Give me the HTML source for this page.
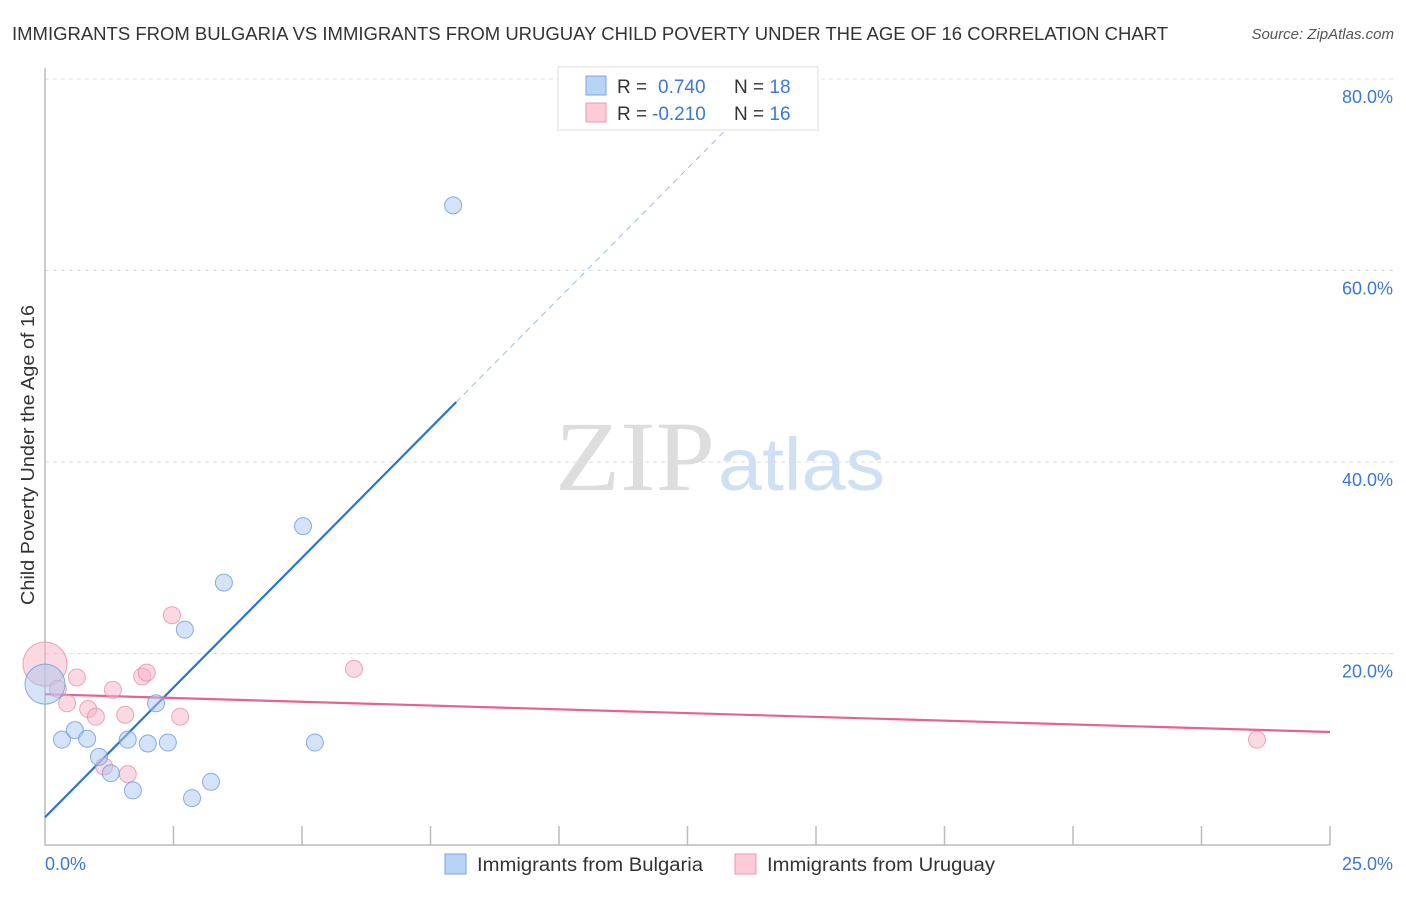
<!DOCTYPE html>
<html><head><meta charset="utf-8"><style>
body{margin:0;background:#fff;font-family:"Liberation Sans",sans-serif;}
</style></head><body>
<svg id="c" width="1406" height="892" xmlns="http://www.w3.org/2000/svg">
<text x="12" y="40" font-size="18" fill="#333" textLength="1156" lengthAdjust="spacingAndGlyphs">IMMIGRANTS FROM BULGARIA VS IMMIGRANTS FROM URUGUAY CHILD POVERTY UNDER THE AGE OF 16 CORRELATION CHART</text>
<text x="1394" y="39" font-size="15" fill="#555" font-style="italic" text-anchor="end">Source: ZipAtlas.com</text>
<text x="555" y="490" font-size="100" fill="#ddd" font-family="Liberation Serif,serif" textLength="160" lengthAdjust="spacingAndGlyphs">ZIP</text>
<text x="718" y="490" font-size="74" fill="#cfe0f5" textLength="167" lengthAdjust="spacingAndGlyphs">atlas</text>
<text transform="translate(34,455) rotate(-90)" font-size="18" fill="#333" text-anchor="middle" textLength="300" lengthAdjust="spacingAndGlyphs">Child Poverty Under the Age of 16</text>
<g id="grid"></g><g id="lines"></g><g id="pts"></g>
<g>
<rect x="558" y="67" width="260" height="63" fill="#fff" stroke="#ddd"/>
<rect x="586" y="76" width="20" height="19" fill="#b9d3f4" stroke="#7aa6e0"/>
<rect x="586" y="103" width="20" height="19" fill="#fbcbd8" stroke="#ee97b0"/>
<text x="617" y="93" font-size="19" fill="#333">R = <tspan x="658" fill="#3b78d8">0.740</tspan></text>
<text x="734" y="93" font-size="19" fill="#333">N = <tspan fill="#3b78d8">18</tspan></text>
<text x="617" y="120" font-size="19" fill="#333">R = <tspan x="652" fill="#3b78d8">-0.210</tspan></text>
<text x="734" y="120" font-size="19" fill="#333">N = <tspan fill="#3b78d8">16</tspan></text>
</g>
<g>
<rect x="445" y="854" width="21" height="20" fill="#b9d3f4" stroke="#7aa6e0"/>
<text x="477" y="871" font-size="19" fill="#333" textLength="226" lengthAdjust="spacingAndGlyphs">Immigrants from Bulgaria</text>
<rect x="735" y="854" width="21" height="20" fill="#fbcbd8" stroke="#ee97b0"/>
<text x="767" y="871" font-size="19" fill="#333" textLength="228" lengthAdjust="spacingAndGlyphs">Immigrants from Uruguay</text>
</g>
</svg>
<script>
const xTicks=[0,25];
const yTicks=[20,40,60,80];
const bulX=[0,0.33,0.58,0.82,1.05,1.28,1.61,1.71,2.0,2.16,2.39,2.72,2.86,3.23,3.48,5.02,5.25,7.94];
const bulY=[16.8,11.0,12.0,11.1,9.2,7.5,11.0,5.7,10.6,14.8,10.7,22.5,4.9,6.6,27.4,33.3,10.7,66.8];
const uruX=[0,0.25,0.43,0.62,0.84,0.99,1.15,1.32,1.56,1.61,1.89,1.98,2.47,2.63,6.01,23.58];
const uruY=[18.9,16.3,14.8,17.5,14.2,13.4,8.2,16.2,13.6,7.4,17.6,18.0,24.0,13.4,18.4,11.0];
const bulLine=[2.9,5.42];
const uruLine=[15.75,-0.158];
const X=v=>45+v*(1285/25), Y=v=>845-v*(766/80);
const NS='http://www.w3.org/2000/svg';
function mk(p,t,a){const e=document.createElementNS(NS,t);for(const k in a)e.setAttribute(k,a[k]);document.getElementById(p).appendChild(e);return e;}
yTicks.forEach(t=>{
 const l=mk('grid','line',{x1:45,x2:1393,y1:Y(t),y2:Y(t),stroke:'#ddd','stroke-dasharray':'4,4'});
 
 
 const tx=mk('grid','text',{x:1393,y:Y(t)+24,'font-size':18,fill:'#3b78d8','text-anchor':'end'});
 tx.textContent=t.toFixed(1)+'%';
 
 
});
const ax=mk('grid','path',{d:'M45 68V845H1330',fill:'none',stroke:'#bbb','stroke-width':1.5});


for(let i=1;i<=10;i++){const v=i*2.5;const t=mk('grid','line',{x1:X(v),x2:X(v),y1:826,y2:845,stroke:'#bbb','stroke-width':1.5});
 
 }
xTicks.forEach((t,i)=>{const tx=mk('grid','text',{x:i?1393:45,y:870,'font-size':18,fill:'#3b78d8','text-anchor':i?'end':'start'});
 tx.textContent=t.toFixed(1)+'%';
 
 });
const bf=v=>bulLine[0]+bulLine[1]*v, uf=v=>uruLine[0]+uruLine[1]*v;
let l1=mk('lines','line',{x1:X(0),y1:Y(bf(0)),x2:X(8.0),y2:Y(bf(8.0)),stroke:'#2b74d6','stroke-width':2.2});


let l2=mk('lines','line',{x1:X(8.0),y1:Y(bf(8.0)),x2:X(14.2),y2:Y(bf(14.2)),stroke:'#9bbbe6','stroke-width':1,'stroke-dasharray':'6,5'});


let l3=mk('lines','line',{x1:X(0),y1:Y(uf(0)),x2:X(25),y2:Y(uf(25)),stroke:'#e8628e','stroke-width':2.2});


uruX.forEach((v,i)=>{const c=mk('pts','circle',{cx:X(v),cy:Y(uruY[i]),r:i==0?22:8.5,fill:'rgba(248,180,200,0.5)',stroke:'rgba(232,130,160,0.7)'});
 
 });
bulX.forEach((v,i)=>{const c=mk('pts','circle',{cx:X(v),cy:Y(bulY[i]),r:i==0?20:8.5,fill:'rgba(170,200,240,0.5)',stroke:'rgba(100,150,220,0.75)'});
 
 });
</script>
</body></html>
